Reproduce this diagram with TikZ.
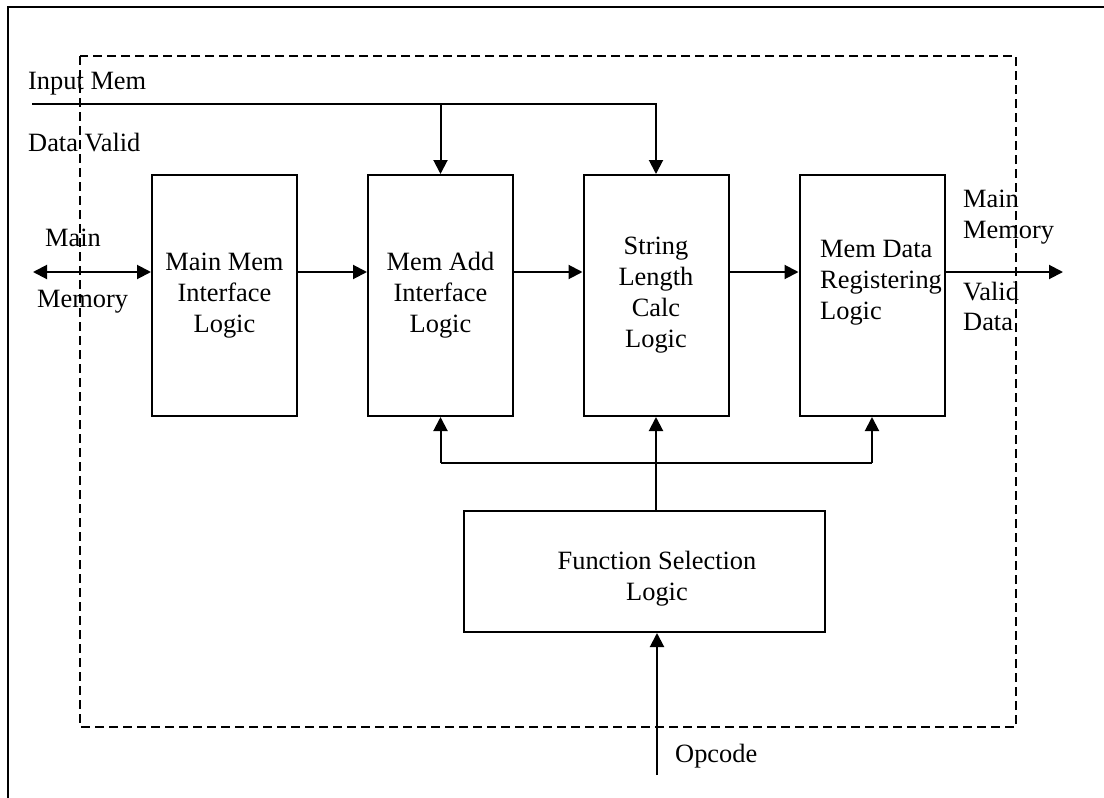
\documentclass[tikz,border=0pt]{standalone}
\usepackage{fontspec}
\setmainfont{Liberation Serif}
\usetikzlibrary{arrows.meta}
\begin{document}
\begin{tikzpicture}[x=1pt,y=-1pt,
  wire/.style={line width=2pt},
  tip/.style={-{Triangle[length=14pt,width=14pt]}},
  block/.style={draw,line width=2pt,minimum width=145pt,minimum height=241pt,inner sep=0pt,align=center},
  lbl/.style={inner sep=0pt,anchor=base west},
  every node/.style={font=\fontsize{26.4}{31}\selectfont}]
\useasboundingbox (0,0) rectangle (1104,798);
% open outer frame (left and top edges only)
\draw[line width=2pt] (8,798) -- (8,7) -- (1104,7);
% dashed boundary of the unit
\draw[line width=2pt,dash pattern=on 9pt off 5pt] (80,56) rectangle (1016,727);

% processing blocks
\node[block] (mi) at (224.5,295.5) {Main Mem\\Interface\\Logic};
\node[block] (ma) at (440.5,295.5) {Mem Add\\Interface\\Logic};
\node[block] (sl) at (656,295.5) {String\\Length\\Calc\\Logic};
\node[block] (md) at (872,295.5) {};
\node[inner sep=0pt,anchor=north west,align=left] (mdt) at (820,240) {Mem Data\\Registering\\Logic};
\node[draw,line width=2pt,minimum width=361pt,minimum height=121pt,inner sep=0pt] (fs) at (644.5,571.5) {};
\node[inner sep=0pt,anchor=north,align=center] (fst) at (657,551) {Function Selection\\Logic};

% signal labels
\node[lbl] (tin1) at (28,89) {Input Mem};
\node[lbl] (tin2) at (28,151) {Data Valid};
\node[lbl] (tmm1) at (45,246) {Main};
\node[lbl] (tmm2) at (37,307) {Memory};
\node[lbl] (tout1) at (963,207) {Main};
\node[lbl] (tout2) at (963,238) {Memory};
\node[lbl] (tout3) at (963,300) {Valid};
\node[lbl] (tout4) at (963,330) {Data};
\node[lbl] (top) at (675,762) {Opcode};

% free ends of the external signals
\coordinate (in) at (32,104);
\coordinate (mm) at (33,272);
\coordinate (out) at (1063,272);
\coordinate (op) at (657,775);
\coordinate (bus) at (657,463);

% input mem data valid
\draw[wire,tip] (in) -| (sl.north);
\draw[wire,tip] (ma.north |- in) -- (ma.north);

% main memory data path
\draw[wire,{Triangle[length=14pt,width=14pt]}-{Triangle[length=14pt,width=14pt]}] (mm) -- (mi.west |- mm);
\draw[wire,tip] (mi.east |- mm) -- (ma.west |- mm);
\draw[wire,tip] (ma.east |- mm) -- (sl.west |- mm);
\draw[wire,tip] (sl.east |- mm) -- (md.west |- mm);
\draw[wire,tip] (md.east |- mm) -- (out);

% function selection fan-out
\draw[wire,tip] (sl.south |- fs.north) -- (sl.south);
\draw[wire] (ma.south |- bus) -- (md.south |- bus);
\draw[wire,tip] (ma.south |- bus) -- (ma.south);
\draw[wire,tip] (md.south |- bus) -- (md.south);

% opcode input
\draw[wire,tip] (op) -- (op |- fs.south);
\end{tikzpicture}
\end{document}
